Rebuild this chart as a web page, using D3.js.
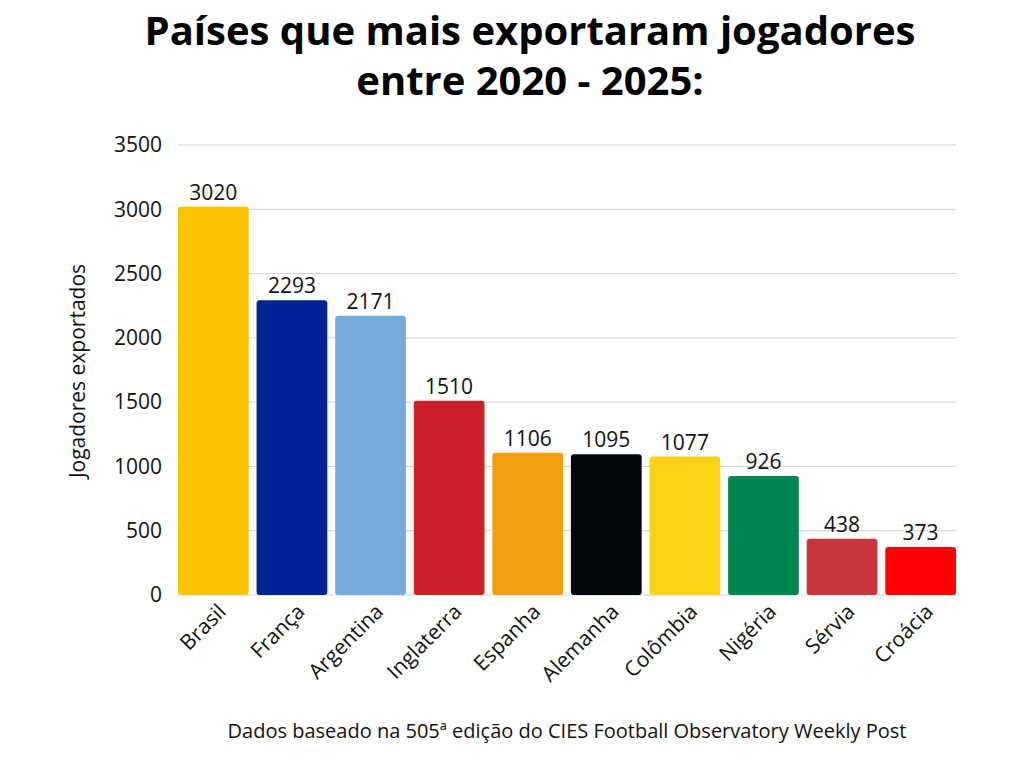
<!DOCTYPE html>
<html><head><meta charset="utf-8">
<script src="https://cdn.jsdelivr.net/npm/d3@7"></script>
<style>body{margin:0;background:#fff}</style>
</head><body>
<svg id="chart" width="1024" height="768"></svg>
<script>
const countries = ['Brasil','França','Argentina','Inglaterra','Espanha','Alemanha','Colômbia','Nigéria','Sérvia','Croácia'];
const players = [3020,2293,2171,1510,1106,1095,1077,926,438,373];
const colors = ['#F8C300','#002395','#75AADB','#CF2028','#F59D0C','#02070B','#FCD116','#008751','#C6363C','#FF0000'];
const yTicks = [0,500,1000,1500,2000,2500,3000,3500];

const margin = {top:145, left:178, right:68, bottom:173};
const width = 1024 - margin.left - margin.right;
const height = 768 - margin.top - margin.bottom;
const font = 'Open Sans, sans-serif';

const svg = d3.select('#chart');
const g = svg.append('g').attr('transform', `translate(${margin.left},${margin.top})`);

const x = d3.scaleBand().domain(countries).range([0,width]).paddingInner(0.1).paddingOuter(0);
const y = d3.scaleLinear().domain([0,3500]).range([height,0]);

g.selectAll('.grid').data(yTicks).enter().append('line')
  .attr('x1',0).attr('x2',width).attr('y1',d=>y(d)).attr('y2',d=>y(d))
  .attr('stroke','#d0d0d0').attr('stroke-width',1);

const yAxis = g.append('g').call(d3.axisLeft(y).tickValues(yTicks).tickFormat(d3.format('d')).tickSize(0).tickPadding(16));
yAxis.select('.domain').remove();
yAxis.selectAll('text').attr('font-family',font).attr('font-size',21).attr('fill','#111');

g.selectAll('rect.bar').data(players).enter().append('rect')
  .attr('x',(d,i)=>x(countries[i])).attr('y',d=>y(d))
  .attr('width',x.bandwidth()).attr('height',d=>height-y(d))
  .attr('fill',(d,i)=>colors[i]).attr('rx',3);

g.selectAll('text.val').data(players).enter().append('text')
  .attr('x',(d,i)=>x(countries[i])+x.bandwidth()/2).attr('y',d=>y(d)-7)
  .attr('text-anchor','middle').attr('font-family',font).attr('font-size',21).attr('fill','#111')
  .text(d=>d);

const xAxis = g.append('g').attr('transform',`translate(0,${height})`)
  .call(d3.axisBottom(x).tickSize(0).tickPadding(0));
xAxis.select('.domain').remove();
xAxis.selectAll('text').attr('font-family',font).attr('font-size',21).attr('fill','#111')
  .attr('text-anchor','end').attr('dy',0)
  .attr('transform','translate(14,18) rotate(-45)');

svg.append('text').attr('transform','translate(85,371) rotate(-90)')
  .attr('text-anchor','middle').attr('font-family',font).attr('font-size',21).attr('fill','#111')
  .text('Jogadores exportados');

svg.append('text').attr('x',530).attr('y',45).attr('text-anchor','middle')
  .attr('font-family',font).attr('font-weight',700).attr('font-size',40).attr('fill','#000')
  .text('Países que mais exportaram jogadores');
svg.append('text').attr('x',530).attr('y',95).attr('text-anchor','middle')
  .attr('font-family',font).attr('font-weight',700).attr('font-size',40).attr('fill','#000')
  .text('entre 2020 - 2025:');

svg.append('text').attr('x',567).attr('y',738).attr('text-anchor','middle')
  .attr('font-family',font).attr('font-size',20).attr('fill','#111')
  .text('Dados baseado na 505ª edição do CIES Football Observatory Weekly Post');
</script>
</body></html>
